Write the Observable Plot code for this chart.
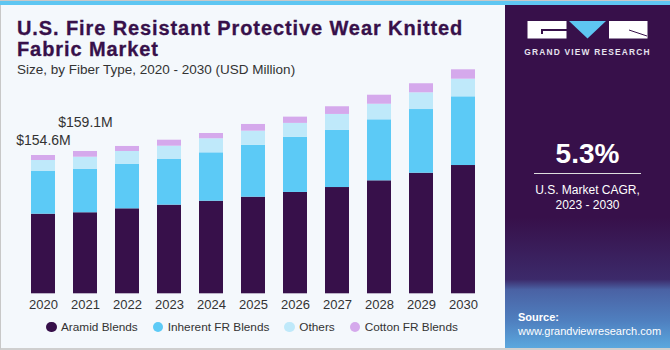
<!DOCTYPE html>
<html>
<head>
<meta charset="utf-8">
<script src="https://cdn.jsdelivr.net/npm/d3@7"></script>
<script src="https://cdn.jsdelivr.net/npm/@observablehq/plot@0.6"></script>
<style>
  html, body { margin: 0; padding: 0; }
  body { width: 670px; height: 350px; overflow: hidden; font-family: "Liberation Sans", Arial, sans-serif; }
  #frame { position: absolute; left: 0; top: 0; width: 670px; height: 350px; background: #f4f8fc; box-sizing: border-box; border-left: 1px solid #c8c8c8; border-bottom: 2px solid #cfcfcf; border-top: 1px solid #c8c8c8;}
  #stripe { position: absolute; left: 0; top: 1px; width: 670px; height: 4px; background: #5ec6f2; }
  #title { position: absolute; left: 17px; top: 18px; font-weight: bold; font-size: 20px; line-height: 21px; color: #37104a; letter-spacing: 0.9px; -webkit-text-stroke: 0.3px #37104a; }
  #subtitle { position: absolute; left: 17px; top: 62px; font-size: 13.5px; color: #333; }
  #chart { position: absolute; left: 0; top: 60px; }
  #legend { position: absolute; left: 46px; top: 320px; font-size: 11.8px; color: #333; display: flex; }
  #legend span.item { display: flex; align-items: center; margin-right: 0; }
  #legend span.dot { display: inline-block; width: 10.5px; height: 10.5px; border-radius: 50%; margin-right: 4.5px; }
  #panel { position: absolute; left: 505px; top: 5px; width: 165px; height: 343px;
    background: linear-gradient(to bottom, #37104a 0%, #37104a 62%, #3c2a6a 80%, #4a62a4 83%, #4f7fbf 92%, #5ba8de 100%); color: #fff; }
  #gvr { position: absolute; left: 0; width: 165px; top: 42px; text-align: center; font-size: 8.4px; font-weight: bold; letter-spacing: 1.2px; color: #e6e2ee; }
  #cagr { position: absolute; left: 0; width: 165px; top: 133px; text-align: center; font-size: 28px; font-weight: bold; }
  #rule { position: absolute; left: 29px; width: 107px; top: 168px; height: 1px; background: #ddd; }
  #cagrtext { position: absolute; left: 0; width: 165px; top: 178px; text-align: center; font-size: 12px; line-height: 14.5px; }
  #source { position: absolute; left: 13px; top: 305px; font-size: 11px; line-height: 14px; }
</style>
</head>
<body>
<div id="frame"></div>
<div id="stripe"></div>
<div id="title">U.S. Fire Resistant Protective Wear Knitted<br>Fabric Market</div>
<div id="subtitle">Size, by Fiber Type, 2020 - 2030 (USD Million)</div>
<div id="chart"></div>
<div id="legend"></div>
<div id="panel">
  <svg width="165" height="40" style="position:absolute;left:0;top:0">
    <rect x="22.5" y="16" width="39" height="17.5" fill="#fff"/>
    <rect x="36" y="24" width="26" height="2" fill="#37104a"/>
    <rect x="36" y="24" width="2" height="5" fill="#37104a"/>
    <polygon points="64,16 101,16 82.5,33.5" fill="#5ec6f2"/>
    <rect x="104" y="16" width="38.5" height="17.5" fill="#fff"/>
    <line x1="124" y1="25" x2="142" y2="31" stroke="#37104a" stroke-width="1"/>
  </svg>
  <div id="gvr">GRAND VIEW RESEARCH</div>
  <div id="cagr">5.3%</div>
  <div id="rule"></div>
  <div id="cagrtext">U.S. Market CAGR,<br>2023 - 2030</div>
  <div id="source"><b>Source:</b><br>www.grandviewresearch.com</div>
</div>
<script>
const years = ["2020","2021","2022","2023","2024","2025","2026","2027","2028","2029","2030"];
const aramid   = [89.0, 90.6, 95.0, 99.1, 103.5, 108.0, 113.3, 118.8, 126.3, 134.8, 143.4];
const inherent = [47.7, 48.7, 49.9, 51.4, 54.1, 58.1, 61.5, 64.1, 68.2, 71.2, 76.8];
const others   = [12.3, 13.4, 14.2, 14.5, 15.7, 15.7, 15.7, 17.6, 17.4, 18.7, 19.7];
const cotton   = [5.6, 6.4, 5.6, 6.7, 5.9, 7.5, 7.0, 8.6, 10.1, 10.1, 10.5];
const seriesNames = ["Aramid Blends", "Inherent FR Blends", "Others", "Cotton FR Blends"];
const seriesColors = ["#37104a", "#5ccaf6", "#bfe9fa", "#d5a9ec"];
const labelYears = ["2020", "2021"];
const labelTexts = ["$154.6M", "$159.1M"];

const seriesValues = [aramid, inherent, others, cotton];
const rows = years.flatMap((y, i) => seriesNames.map((s, k) => ({year: y, series: s, value: seriesValues[k][i]})));
const totals = years.map((y, i) => ({year: y, total: seriesValues.reduce((a, v) => a + v[i], 0)}));
const labels = labelYears.map((y, j) => ({year: y, total: totals[years.indexOf(y)].total, text: labelTexts[j]}));

const chart = Plot.plot({
  width: 505,
  height: 260,
  marginLeft: 22,
  marginRight: 21,
  marginTop: 0,
  marginBottom: 26.7,
  style: {background: "transparent", fontFamily: "Liberation Sans, Arial, sans-serif", fontSize: "13px", color: "#333"},
  x: {domain: years, paddingInner: 0.43, paddingOuter: 0.215, label: null, tickSize: 0, tickPadding: 6},
  y: {domain: [0, 260.8], axis: null},
  color: {domain: seriesNames, range: seriesColors},
  marks: [
    Plot.barY(rows, Plot.stackY({x: "year", y: "value", fill: "series", order: seriesNames})),
    Plot.text(labels.slice(0, 1), {x: "year", y: "total", text: "text", dy: -15, fontSize: 14, fill: "#333"}),
    Plot.text(labels.slice(1, 2), {x: "year", y: "total", text: "text", dy: -29, fontSize: 14, fill: "#333"})
  ]
});
document.getElementById("chart").appendChild(chart);

const legend = document.getElementById("legend");
const gaps = [15, 15, 15, 0];
seriesNames.forEach((s, i) => {
  const item = document.createElement("span");
  item.className = "item";
  item.style.marginRight = gaps[i] + "px";
  item.innerHTML = `<span class="dot" style="background:${seriesColors[i]}"></span>${s}`;
  legend.appendChild(item);
});
</script>
</body>
</html>
